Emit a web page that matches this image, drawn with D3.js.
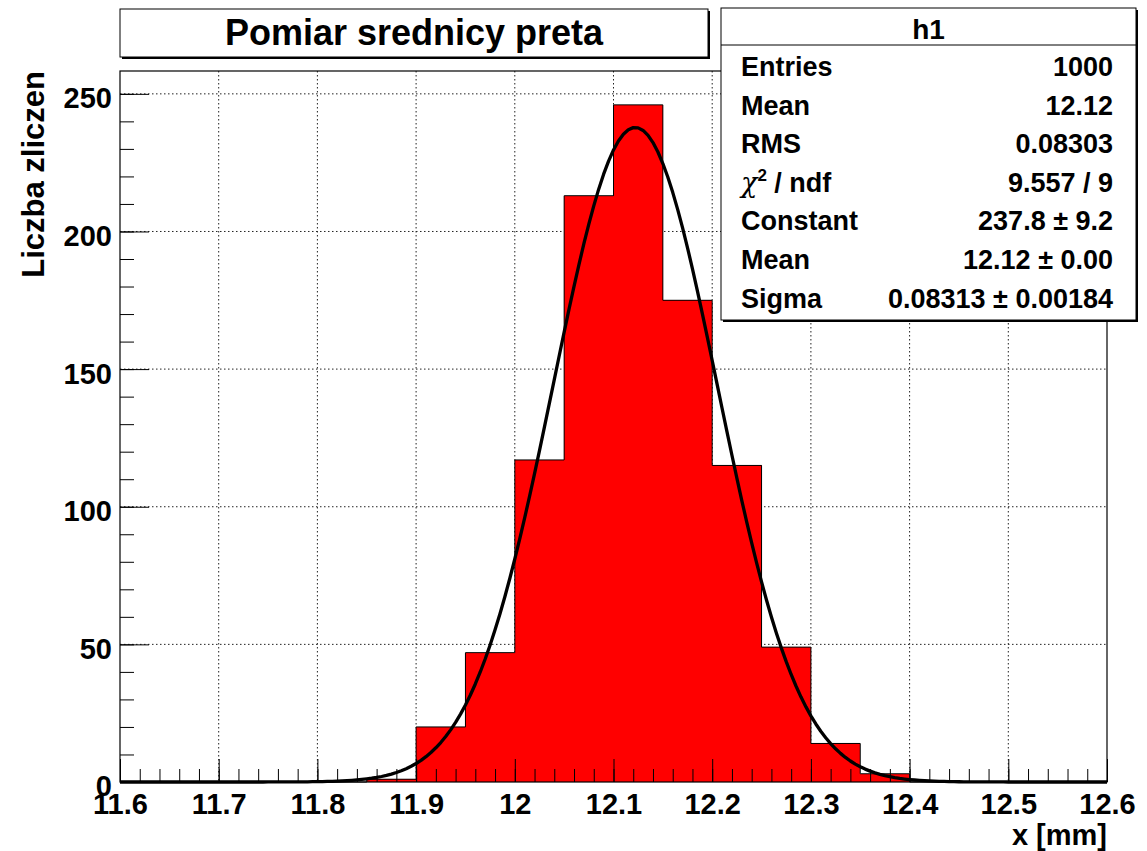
<!DOCTYPE html>
<html>
<head>
<meta charset="utf-8">
<script src="https://cdn.jsdelivr.net/npm/d3@7"></script>
<style>
    body { margin: 0; background: #fff; }
    svg { display: block; font-family: 'Liberation Sans', Arial, Helvetica, sans-serif; font-weight: bold; }
</style>
</head>
<body>
<div id="chart"></div>
<script>
//Datos del histograma (h1)
const binLow = [11.6, 11.65, 11.7, 11.75, 11.8, 11.85, 11.9, 11.95, 12.0, 12.05,
                12.1, 12.15, 12.2, 12.25, 12.3, 12.35, 12.4, 12.45, 12.5, 12.55];
const counts = [0, 0, 0, 0, 0, 1, 20, 47, 117, 213,
                246, 175, 115, 49, 14, 3, 0, 0, 0, 0];
const binWidth = 0.05;

//Ajuste gaussiano
const fitConstant = 237.8,
    fitMean = 12.122,
    fitSigma = 0.08313;

//Ejes
const xTicks = [11.6, 11.7, 11.8, 11.9, 12.0, 12.1, 12.2, 12.3, 12.4, 12.5, 12.6];
const xTickLabels = ['11.6', '11.7', '11.8', '11.9', '12', '12.1', '12.2', '12.3', '12.4', '12.5', '12.6'];
const yTicks = [0, 50, 100, 150, 200, 250];

//Caja de estadísticas
const statLabels = ['Entries', 'Mean', 'RMS', 'chi2', 'Constant', 'Mean', 'Sigma'];
const statValues = ['1000', '12.12', '0.08303', '9.557 / 9', '237.8 \u00b1 9.2', '12.12 \u00b1 0.00', '0.08313 \u00b1 0.00184'];

const titleText = 'Pomiar srednicy preta';
const xTitle = 'x [mm]';
const yTitle = 'Liczba zliczen';

let W = 1147, H = 851;
let frame = {left: 120, right: 1107, top: 71, bottom: 782};

let svg = d3.select('#chart')
    .append('svg')
    .attr('width', W)
    .attr('height', H);

let x = d3.scaleLinear()
    .domain([11.6, 12.6])
    .range([frame.left, frame.right]);

let y = d3.scaleLinear()
    .domain([0, d3.max(counts) * 1.05])
    .range([frame.bottom, frame.top]);

//Rejilla punteada
let grid = svg.append('g');
grid.selectAll('.gx')
    .data(xTicks.slice(1, -1))
    .enter()
    .append('line')
    .attr('x1', function(d) { return x(d); })
    .attr('x2', function(d) { return x(d); })
    .attr('y1', frame.top)
    .attr('y2', frame.bottom)
    .attr('stroke', '#222')
    .attr('stroke-width', 1)
    .attr('stroke-dasharray', '1.5,2.5');
grid.selectAll('.gy')
    .data(yTicks.slice(1))
    .enter()
    .append('line')
    .attr('x1', frame.left)
    .attr('x2', frame.right)
    .attr('y1', function(d) { return y(d); })
    .attr('y2', function(d) { return y(d); })
    .attr('stroke', '#222')
    .attr('stroke-width', 1)
    .attr('stroke-dasharray', '1.5,2.5');

//Barras del histograma
svg.append('g')
    .attr('shape-rendering', 'crispEdges')
    .selectAll('rect')
    .data(counts)
    .enter()
    .append('rect')
    .attr('x', function(d, i) { return Math.round(x(binLow[i])); })
    .attr('width', function(d, i) { return Math.round(x(binLow[i] + binWidth)) - Math.round(x(binLow[i])); })
    .attr('y', function(d) { return y(d); })
    .attr('height', function(d) { return y(0) - y(d); })
    .attr('fill', '#ff0000');

//Contorno escalonado
let stepPts = [];
counts.forEach(function(d, i) {
    stepPts.push([binLow[i], d]);
    stepPts.push([binLow[i] + binWidth, d]);
});
svg.append('path')
    .datum(stepPts)
    .attr('fill', 'none')
    .attr('stroke', '#000')
    .attr('stroke-width', 1)
    .attr('d', d3.line()
        .x(function(d) { return x(d[0]); })
        .y(function(d) { return y(d[1]); }));

//Curva del ajuste
let gaus = function(v) {
    return fitConstant * Math.exp(-0.5 * Math.pow((v - fitMean) / fitSigma, 2));
};
let curveX = d3.range(11.6, 12.6001, 0.005);
svg.append('path')
    .datum(curveX)
    .attr('fill', 'none')
    .attr('stroke', '#000')
    .attr('stroke-width', 3.3)
    .attr('stroke-linejoin', 'round')
    .attr('d', d3.line()
        .x(function(d) { return x(d); })
        .y(function(d) { return y(gaus(d)); }));

//Eje X
let xAxisMinor = d3.axisBottom(x)
    .tickValues(x.ticks(50))
    .tickSizeInner(-13)
    .tickSizeOuter(0)
    .tickFormat('');
let xAxisMajor = d3.axisBottom(x)
    .tickValues(xTicks)
    .tickSizeInner(-23)
    .tickSizeOuter(0)
    .tickPadding(11)
    .tickFormat(function(d, i) { return xTickLabels[i]; });

svg.append('g')
    .attr('transform', 'translate(0,' + frame.bottom + ')')
    .call(xAxisMinor)
    .call(function(g) { g.select('.domain').remove(); });
svg.append('g')
    .attr('transform', 'translate(0,' + frame.bottom + ')')
    .call(xAxisMajor)
    .call(function(g) {
        g.select('.domain').remove();
        g.selectAll('text')
            .attr('fill', '#000')
            .style('font-size', '29px')
            .style('font-family', "'Liberation Sans', Arial, sans-serif")
            .style('font-weight', 'bold');
    });

//Eje Y
let yAxisMinor = d3.axisLeft(y)
    .tickValues(d3.range(0, 251, 10))
    .tickSizeInner(-14)
    .tickSizeOuter(0)
    .tickFormat('');
let yAxisMajor = d3.axisLeft(y)
    .tickValues(yTicks)
    .tickSizeInner(-29)
    .tickSizeOuter(0)
    .tickPadding(8);

svg.append('g')
    .attr('transform', 'translate(' + frame.left + ',0)')
    .call(yAxisMinor)
    .call(function(g) { g.select('.domain').remove(); });
svg.append('g')
    .attr('transform', 'translate(' + frame.left + ',0)')
    .call(yAxisMajor)
    .call(function(g) {
        g.select('.domain').remove();
        g.selectAll('text')
            .attr('dy', '0.48em')
            .attr('fill', '#000')
            .style('font-size', '29px')
            .style('font-family', "'Liberation Sans', Arial, sans-serif")
            .style('font-weight', 'bold');
    });

svg.selectAll('.tick line').attr('stroke', '#000');

//Marco
svg.append('rect')
    .attr('x', frame.left)
    .attr('y', frame.top)
    .attr('width', frame.right - frame.left)
    .attr('height', frame.bottom - frame.top)
    .attr('fill', 'none')
    .attr('stroke', '#000')
    .attr('stroke-width', 1.2);

//Títulos de los ejes
svg.append('text')
    .attr('x', frame.right)
    .attr('y', 845)
    .attr('text-anchor', 'end')
    .style('font-size', '29px')
    .text(xTitle);

svg.append('text')
    .attr('transform', 'translate(44,' + frame.top + ') rotate(-90)')
    .attr('text-anchor', 'end')
    .style('font-size', '31px')
    .text(yTitle);

//Caja con sombra
function shadowBox(bx, by, bw, bh) {
    svg.append('rect')
        .attr('x', bx + 2).attr('y', by + 2)
        .attr('width', bw).attr('height', bh)
        .attr('fill', '#000');
    svg.append('rect')
        .attr('x', bx).attr('y', by)
        .attr('width', bw).attr('height', bh)
        .attr('fill', '#fff')
        .attr('stroke', '#000')
        .attr('stroke-width', 1);
}

//Título
shadowBox(120, 9, 588, 48);
svg.append('text')
    .attr('x', 414)
    .attr('y', 45)
    .attr('text-anchor', 'middle')
    .style('font-size', '36px')
    .text(titleText);

//Estadísticas
let stats = {left: 721, top: 8, right: 1136, bottom: 320};
shadowBox(stats.left, stats.top, stats.right - stats.left, stats.bottom - stats.top);
svg.append('line')
    .attr('x1', stats.left).attr('x2', stats.right)
    .attr('y1', 45).attr('y2', 45)
    .attr('stroke', '#000');
svg.append('text')
    .attr('x', (stats.left + stats.right) / 2)
    .attr('y', 39)
    .attr('text-anchor', 'middle')
    .style('font-size', '28px')
    .text('h1');

statLabels.forEach(function(lab, i) {
    let by = 76 + i * 38.6;
    let t = svg.append('text')
        .attr('x', 741)
        .attr('y', by)
        .style('font-size', '27px');
    if (lab == 'chi2') {
        t.append('tspan').style('font-weight', 'normal').style('font-family', "'DejaVu Serif', serif").style('font-style', 'italic').text('\u03c7');
        t.append('tspan').attr('dy', -11).style('font-size', '17px').text('2');
        t.append('tspan').attr('dy', 11).text(' / ndf');
    } else {
        t.text(lab);
    }
    svg.append('text')
        .attr('x', 1113)
        .attr('y', by)
        .attr('text-anchor', 'end')
        .style('font-size', '27px')
        .text(statValues[i]);
});
</script>
</body>
</html>
